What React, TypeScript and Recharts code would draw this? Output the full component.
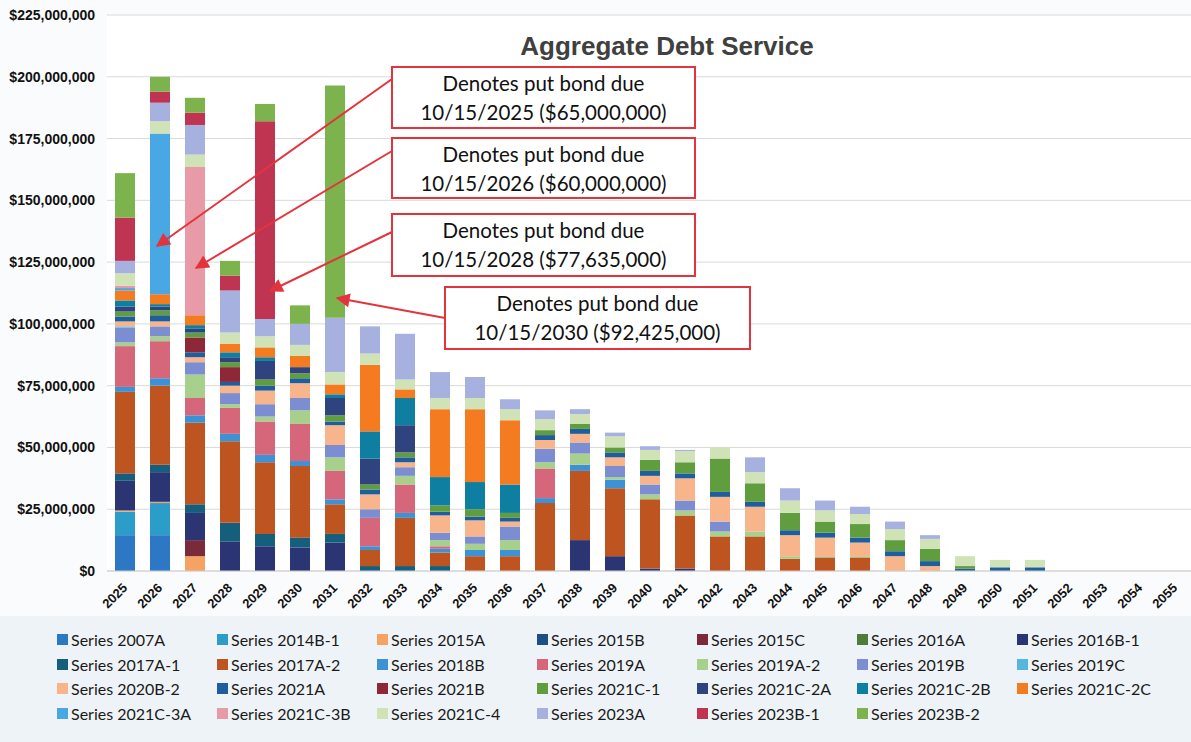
import { BarChart, Bar, XAxis, YAxis, CartesianGrid } from 'recharts';

// values in $ millions, years 2025..2055
const years = ['2025', '2026', '2027', '2028', '2029', '2030', '2031', '2032', '2033', '2034', '2035', '2036', '2037', '2038', '2039', '2040', '2041', '2042', '2043', '2044', '2045', '2046', '2047', '2048', '2049', '2050', '2051', '2052', '2053', '2054', '2055'];

const s2007A = [14.5, 14.5, 0, 0, 0, 0, 0, 0, 0, 0, 0, 0, 0, 0, 0, 0, 0, 0, 0, 0, 0, 0, 0, 0, 0, 0, 0, 0, 0, 0, 0];
const s2014B1 = [9.5, 13, 0, 0, 0, 0, 0, 0, 0, 0, 0, 0, 0, 0, 0, 0, 0, 0, 0, 0, 0, 0, 0, 0, 0, 0, 0, 0, 0, 0, 0];
const s2015A = [0.5, 0.5, 6, 0, 0, 0, 0, 0, 0, 0, 0, 0, 0, 0, 0, 0, 0, 0, 0, 0, 0, 0, 0, 0, 0, 0, 0, 0, 0, 0, 0];
const s2015B = [0, 0, 0, 0, 0, 0, 0, 0, 0, 0, 0, 0, 0, 0, 0, 0, 0, 0, 0, 0, 0, 0, 0, 0, 0, 0, 0, 0, 0, 0, 0];
const s2015C = [0, 0, 6.5, 0, 0, 0, 0, 0, 0, 0, 0, 0, 0, 0, 0, 0, 0, 0, 0, 0, 0, 0, 0, 0, 0, 0, 0, 0, 0, 0, 0];
const s2016A = [0, 0, 0, 0, 0, 0, 0, 0, 0, 0, 0, 0, 0, 0, 0, 0, 0, 0, 0, 0, 0, 0, 0, 0, 0, 0, 0, 0, 0, 0, 0];
const s2016B1 = [12, 12, 11, 12, 10, 9.5, 11.5, 0, 0, 0, 0, 0, 0, 12.5, 6, 1, 1, 0, 0, 0, 0, 0, 0, 0, 0, 0, 0, 0, 0, 0, 0];
const s2017A1 = [3, 3, 3.5, 7.5, 5, 4, 3.5, 2, 2, 2, 0, 0, 0, 0, 0, 0, 0, 0, 0, 0, 0, 0, 0, 0, 0, 0, 0, 0, 0, 0, 0];
const s2017A2 = [33, 32, 33, 33, 29, 29, 12, 6.5, 19.5, 5.5, 6, 6, 27.5, 28, 27.5, 28, 21.5, 14, 14, 5, 5.5, 5.5, 0, 0, 0, 0, 0, 0, 0, 0, 0];
const s2018B = [2, 3, 3, 3, 3, 2, 2, 1.5, 2, 1.5, 2.5, 2.5, 2, 2.5, 3.5, 0, 0, 0, 0, 0, 0, 0, 0, 0, 0, 0, 0, 0, 0, 0, 0];
const s2019A = [16.5, 15, 7, 10.5, 13.5, 15, 11.5, 11.5, 11.5, 1, 0, 0, 12, 0, 0, 0, 0, 0, 0, 0, 0, 0, 0, 0, 0, 0, 0, 0, 0, 0, 0];
const s2019A2 = [1.5, 2, 9.5, 1.5, 2, 5.5, 5.5, 0, 3.5, 2.5, 2.5, 4, 2.5, 4.5, 1, 2, 2, 2, 2, 1, 0.5, 0.5, 0, 0, 0, 0, 0, 0, 0, 0, 0];
const s2019B = [6, 4, 5, 4.5, 5, 5, 5, 3.5, 3.5, 3, 3, 5.5, 5.5, 4.5, 4.5, 4, 4, 4, 0, 0, 0, 0, 0, 0, 0, 0, 0, 0, 0, 0, 0];
const s2019C = [0.5, 0, 0, 0, 0, 0, 0, 0, 0, 0, 0, 0, 0, 0, 0, 0, 0, 0, 0, 0, 0, 0, 0, 0, 0, 0, 0, 0, 0, 0, 0];
const s2020B2 = [2, 2, 2, 3, 5.5, 6, 8, 6, 2, 7, 6.5, 2, 3.5, 3.5, 3.5, 3.5, 9, 10, 10, 8.5, 7.5, 5.5, 6, 2, 0, 0, 0, 0, 0, 0, 0];
const s2021A = [2, 2.5, 2, 1.5, 2, 2, 1.5, 2, 2, 1.5, 1.5, 1.5, 2, 2, 2, 2, 2, 2, 2, 2, 2, 2, 2, 2, 1, 1.5, 1.5, 0, 0, 0, 0];
const s2021B = [0, 0, 6, 6, 0, 0, 0, 0, 0, 0, 0, 0, 0, 0, 0, 0, 0, 0, 0, 0, 0, 0, 0, 0, 0, 0, 0, 0, 0, 0, 0];
const s2021C1 = [2, 2, 2, 2, 2.5, 2, 2.5, 2, 2, 2.5, 3, 2, 2, 2, 2, 4.5, 4.5, 13.5, 7.5, 7, 4.5, 5.5, 4.5, 5, 1, 0, 0, 0, 0, 0, 0];
const s2021C2A = [2, 1.5, 1.5, 2, 7.5, 2.5, 7, 10.5, 11, 0, 0, 0, 0, 0, 0, 0, 0, 0, 0, 0, 0, 0, 0, 0, 0, 0, 0, 0, 0, 0, 0];
const s2021C2B = [2.5, 1, 1.5, 2, 1.5, 0, 1.5, 11, 11, 11.5, 11, 11.5, 0, 0, 0, 0, 0, 0, 0, 0, 0, 0, 0, 0, 0, 0, 0, 0, 0, 0, 0];
const s2021C2C = [4, 4, 4, 3.5, 4, 4.5, 4, 27, 3.5, 27.5, 29.5, 26, 0, 0, 0, 0, 0, 0, 0, 0, 0, 0, 0, 0, 0, 0, 0, 0, 0, 0, 0];
const s2021C3A = [1, 65, 0, 0, 0, 0, 0, 0, 0, 0, 0, 0, 0, 0, 0, 0, 0, 0, 0, 0, 0, 0, 0, 0, 0, 0, 0, 0, 0, 0, 0];
const s2021C3B = [1, 0, 60, 0, 0, 0, 0, 0, 0, 0, 0, 0, 0, 0, 0, 0, 0, 0, 0, 0, 0, 0, 0, 0, 0, 0, 0, 0, 0, 0, 0];
const s2021C4 = [5, 5, 5, 4.5, 4.5, 4.5, 5, 4.5, 4, 4.5, 4.5, 4.5, 4.5, 4, 4.5, 4, 4.5, 4.5, 4.5, 5, 4.5, 4, 4.5, 4, 4, 3, 3, 0, 0, 0, 0];
const s2023A = [5, 7.5, 12, 17, 7, 8.5, 22, 11, 18.5, 10.5, 8.5, 4, 3.5, 2, 1.5, 1.5, 0.5, 0, 6, 5, 4, 3, 3, 1.5, 0, 0, 0, 0, 0, 0, 0];
const s2023B1 = [17.5, 4.5, 5, 6, 80, 0, 0, 0, 0, 0, 0, 0, 0, 0, 0, 0, 0, 0, 0, 0, 0, 0, 0, 0, 0, 0, 0, 0, 0, 0, 0];
const s2023B2 = [18, 6, 6, 6, 7, 7.5, 94, 0, 0, 0, 0, 0, 0, 0, 0, 0, 0, 0, 0, 0, 0, 0, 0, 0, 0, 0, 0, 0, 0, 0, 0];

const yTicks = [0, 25, 50, 75, 100, 125, 150, 175, 200, 225];

const seriesList = [
  { name: 'Series 2007A', values: s2007A, color: '#2D78C4' },
  { name: 'Series 2014B-1', values: s2014B1, color: '#2C9CC9' },
  { name: 'Series 2015A', values: s2015A, color: '#F5A262' },
  { name: 'Series 2015B', values: s2015B, color: '#1E4F82' },
  { name: 'Series 2015C', values: s2015C, color: '#7A2A3A' },
  { name: 'Series 2016A', values: s2016A, color: '#4F7C3A' },
  { name: 'Series 2016B-1', values: s2016B1, color: '#2C3573' },
  { name: 'Series 2017A-1', values: s2017A1, color: '#155F7D' },
  { name: 'Series 2017A-2', values: s2017A2, color: '#BE5520' },
  { name: 'Series 2018B', values: s2018B, color: '#3D92D6' },
  { name: 'Series 2019A', values: s2019A, color: '#D6667A' },
  { name: 'Series 2019A-2', values: s2019A2, color: '#A8D08D' },
  { name: 'Series 2019B', values: s2019B, color: '#7C8ED1' },
  { name: 'Series 2019C', values: s2019C, color: '#55B7DE' },
  { name: 'Series 2020B-2', values: s2020B2, color: '#F8B48A' },
  { name: 'Series 2021A', values: s2021A, color: '#1E5E9E' },
  { name: 'Series 2021B', values: s2021B, color: '#8E2838' },
  { name: 'Series 2021C-1', values: s2021C1, color: '#5F9D3F' },
  { name: 'Series 2021C-2A', values: s2021C2A, color: '#2F437F' },
  { name: 'Series 2021C-2B', values: s2021C2B, color: '#0F7FA1' },
  { name: 'Series 2021C-2C', values: s2021C2C, color: '#F47B20' },
  { name: 'Series 2021C-3A', values: s2021C3A, color: '#49A7E3' },
  { name: 'Series 2021C-3B', values: s2021C3B, color: '#E89AA6' },
  { name: 'Series 2021C-4', values: s2021C4, color: '#CFE3B7' },
  { name: 'Series 2023A', values: s2023A, color: '#A6B1E0' },
  { name: 'Series 2023B-1', values: s2023B1, color: '#BF3450' },
  { name: 'Series 2023B-2', values: s2023B2, color: '#7DB34C' },
];

const data = years.map((year, i) => {
  const row: Record<string, string | number> = { year };
  seriesList.forEach((s, k) => {
    row['s' + k] = s.values[i];
  });
  return row;
});

// callout boxes and arrows (pixel positions on the page)
const notes = [
  { line2: '10/15/2025 ($65,000,000)', x: 392, y: 67, w: 303, h: 61, from: [392, 79], to: [157, 246] },
  { line2: '10/15/2026 ($60,000,000)', x: 392, y: 138, w: 303, h: 60, from: [392, 151], to: [196, 268] },
  { line2: '10/15/2028 ($77,635,000)', x: 392, y: 214, w: 303, h: 62, from: [392, 232], to: [270, 291] },
  { line2: '10/15/2030 ($92,425,000)', x: 445, y: 287, w: 305, h: 62, from: [445, 318], to: [337, 298] },
];

const fmtMoney = (v: number) => '$' + (v * 1000000).toLocaleString('en-US');

const XTick = (props: any) => {
  const { x, y, payload } = props;
  return (
    <g transform={`translate(${x - 2},${y + 4})`}>
      <text x={0} y={0} dy={8} textAnchor="end" transform="rotate(-45)" fill="#111" fontSize={13} fontWeight={700} fontFamily="Liberation Sans, Arial, sans-serif">
        {payload.value}
      </text>
    </g>
  );
};

const red = '#E3343E';

const App = () => {
  return (
    <div style={{ position: 'absolute', left: 0, top: 0, width: 1191, height: 742, overflow: 'hidden', background: '#FAFBFC' }}>
      <BarChart width={1192} height={612} data={data} margin={{ top: 15, right: 0, left: 0, bottom: 0 }} barSize={20}>
        <CartesianGrid vertical={false} stroke="#D9D9D9" fill="#FFFFFF" />
        <XAxis dataKey="year" interval={0} height={41} tickLine={false} axisLine={{ stroke: '#D0D0D0' }} tick={<XTick />} />
        <YAxis
          width={107}
          domain={[0, 225]}
          ticks={yTicks}
          tickLine={false}
          axisLine={false}
          tickMargin={6}
          tickFormatter={fmtMoney}
          tick={{ fill: '#111', fontSize: 14, fontWeight: 700, fontFamily: 'Liberation Sans, Arial, sans-serif' }}
        />
        {seriesList.map((s, k) => (
          <Bar key={s.name} dataKey={'s' + k} name={s.name} stackId="a" fill={s.color} isAnimationActive={false} />
        ))}
      </BarChart>

      <svg width={1191} height={742} style={{ position: 'absolute', left: 0, top: 0, pointerEvents: 'none' }}>
        <defs>
          <marker id="arrowHead" viewBox="0 0 10 10" refX={9} refY={5} markerWidth={10} markerHeight={7} orient="auto" markerUnits="strokeWidth">
            <path d="M0,0 L10,5 L0,10 z" fill={red} />
          </marker>
        </defs>
        <text x={667} y={55} textAnchor="middle" fontSize={26} fontWeight={700} fill="#404040" fontFamily="Liberation Sans, Arial, sans-serif">
          Aggregate Debt Service
        </text>
        {notes.map((n) => (
          <g key={n.line2}>
            <line x1={n.from[0]} y1={n.from[1]} x2={n.to[0]} y2={n.to[1]} stroke={red} strokeWidth={2} markerEnd="url(#arrowHead)" />
            <rect x={n.x} y={n.y} width={n.w} height={n.h} fill="#FFFFFF" stroke={red} strokeWidth={2} />
            <text x={n.x + n.w / 2} y={n.y + 24} textAnchor="middle" fontSize={20.5} fill="#111" fontFamily="Lato, sans-serif">
              Denotes put bond due
            </text>
            <text x={n.x + n.w / 2} y={n.y + 53} textAnchor="middle" fontSize={20.5} fill="#111" fontFamily="Lato, sans-serif">
              {n.line2}
            </text>
          </g>
        ))}
      </svg>

      <div style={{ position: 'absolute', left: 0, top: 616, width: 1191, height: 126, background: '#EEF3F7' }}>
        {seriesList.map((s, k) => {
          const col = k % 7;
          const row = Math.floor(k / 7);
          return (
            <div
              key={s.name}
              style={{
                position: 'absolute',
                left: 57 + col * 160,
                top: 14 + row * 24.6,
                display: 'flex',
                alignItems: 'center',
                fontFamily: 'Lato, sans-serif',
                fontSize: 16,
                color: '#1A1A1A',
                whiteSpace: 'nowrap',
              }}
            >
              <span style={{ width: 11, height: 11, background: s.color, marginRight: 3, display: 'inline-block' }} />
              {s.name}
            </div>
          );
        })}
      </div>
    </div>
  );
};

export default App;
